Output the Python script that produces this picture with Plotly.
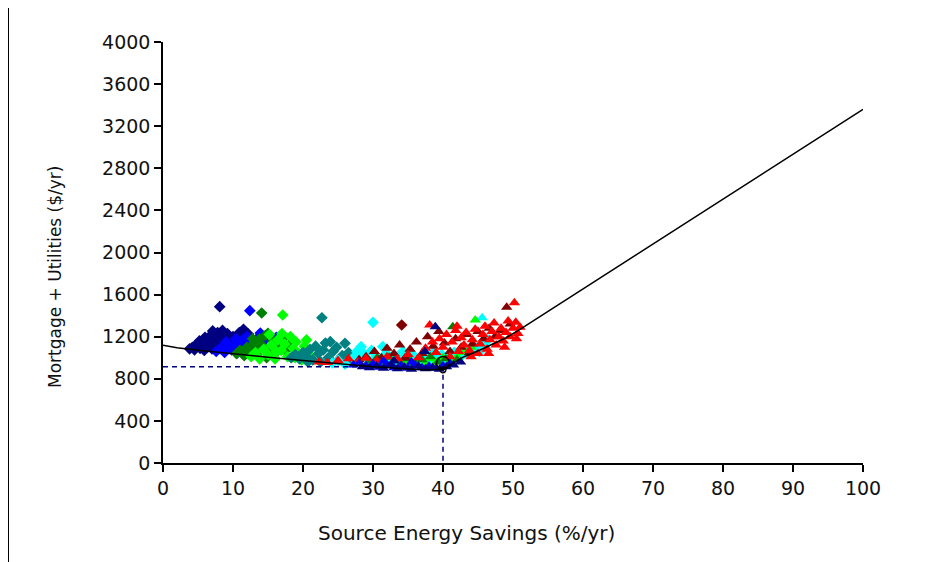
import plotly.graph_objects as go

# ---------------- data ----------------
navy_dia_x = [3.8,4.2,4.5,5.0,5.3,5.6,5.9,6.2,6.4,6.7,6.9,7.1,7.3,7.5,7.8,8.0,8.1,8.3,8.5,8.7,8.9,9.2,9.5,9.7,10.0,10.3,10.6,10.9,11.2,11.5,11.8,12.2,12.5,12.8,5.2,6.0,7.0,9.0,4.8,7.7]
navy_dia_y = [1085,1100,1075,1110,1090,1130,1070,1150,1105,1180,1220,1255,1130,1200,1240,1165,1485,1210,1260,1120,1180,1230,1095,1150,1200,1080,1170,1240,1130,1270,1190,1225,1110,1150,1160,1195,1085,1070,1130,1100]

blue_dia_x = [7.6,8.2,8.8,9.3,9.8,10.2,10.6,11.0,11.4,11.8,12.0,12.4,12.6,13.0,13.4,13.9,14.2,14.6,15.0,15.4,15.8,16.2,10.4,9.0,12.9]
blue_dia_y = [1060,1090,1050,1110,1075,1140,1045,1100,1170,1065,1200,1447,1130,1090,1180,1235,1150,1100,1200,1060,1130,1195,1180,1150,1040]

green_dia_x = [10.5,11.0,11.6,12.0,12.5,13.0,13.4,13.8,14.1,14.3,14.6,15.0,15.3,15.7,16.0,16.4,16.8,17.2,17.5,18.0,18.5,19.0,19.6,12.8,14.8,13.6]
green_dia_y = [1040,1070,1020,1100,1060,1140,1030,1180,1425,1110,1210,1232,1080,1160,1040,1130,1200,1185,1070,1120,1010,1060,1000,1180,1000,1090]

lime_dia_x = [12.6,13.2,13.8,14.4,15.0,15.5,16.0,16.4,16.9,17.1,17.4,17.8,18.2,18.6,19.0,19.4,19.8,20.2,20.5,21.0,15.2,17.0,18.9,16.2]
lime_dia_y = [1010,1050,990,1080,1030,1120,990,1170,1070,1406,1130,1010,1200,1090,1150,1040,980,1110,1169,1020,1220,1230,1000,1060]

teal_dia_x = [18.3,18.9,19.5,20.0,20.5,21.0,21.4,21.8,22.2,22.7,22.9,23.2,23.6,23.9,24.3,24.8,25.2,25.6,26.0,26.5,27.0,27.5,20.7,22.5,24.0]
teal_dia_y = [1000,1030,990,1050,1010,1080,980,1110,1040,1380,1074,1140,1000,1153,1060,1100,990,1020,1137,1050,980,1010,960,960,970]

cyan_dia_x = [24.2,25.0,26.0,27.2,27.7,28.3,28.8,29.3,29.8,30.0,30.5,31.0,31.4,31.9,32.5,33.1,33.7,34.3,34.9,35.5,36.1,36.7,37.3,38.0,38.6,39.2,39.8,40.4,41.0,41.6,42.2,42.8,43.4,44.0,44.6,45.2,45.8,46.4]
cyan_dia_y = [950,975,940,1000,1060,1105,1030,980,1070,1337,1010,950,1105,1040,990,950,1020,1060,980,1040,1000,960,1020,980,1050,990,1030,960,1000,1050,990,1030,1080,1040,1100,1060,1130,1170]

maroon_dia_x = [34.1]
maroon_dia_y = [1311]

navy_tri_x = [28.5,29.5,30.5,31.5,32.5,33.5,34.5,35.5,36.5,37.5,38.5,39.5,40.5,41.5,38.9,37.4,33.0,42.5]
navy_tri_y = [915,905,920,900,930,895,910,890,920,895,905,890,915,930,1295,1060,970,960]

blue_tri_x = [27.2,28.0,29.0,30.0,31.0,32.0,33.0,34.0,35.0,36.0,37.0,38.0,39.0,40.0,41.0,35.5,31.5]
blue_tri_y = [930,945,925,940,910,935,905,925,900,930,905,920,900,925,945,960,970]

green_tri_x = [29.5,30.6,31.5,32.3,33.2,34.0,35.0,36.0,37.0,38.2,39.3,40.4,41.4,42.0]
green_tri_y = [970,1000,960,1005,975,940,990,955,980,1010,960,990,1295,980]

lime_tri_x = [34.5,35.6,36.7,37.5,38.4,39.0,40.0,41.0,42.0,43.0,44.6,44.0]
lime_tri_y = [960,945,980,950,990,960,1000,970,1010,1050,1359,1100]

cyan_tri_x = [45.6,42.5,43.5,44.5,40.8,39.5,46.0,41.8]
cyan_tri_y = [1381,1060,1020,1060,1040,1010,1120,990]

maroon_tri_x = [28.0,29.0,30.2,31.2,32.0,33.0,33.8,34.6,35.3,36.2,37.0,37.8,38.6,39.4,40.2,41.0,41.8,42.6,43.4,44.2,45.0,45.8,46.6,47.4,48.2,49.1,49.6,43.8]
maroon_tri_y = [980,1010,1060,1000,1090,1040,1120,1000,1080,1150,1040,1200,1110,1250,1140,1060,1180,1100,1220,1130,1250,1180,1280,1200,1260,1479,1320,1050]

red_tri_x = [22.3,23.5,25.0,26.5,27.8,29.0,30.5,32.0,33.5,35.0,36.5,37.5,38.1,38.5,39.0,39.5,40.0,40.5,41.0,41.3,41.8,42.2,42.6,43.0,43.3,43.8,44.2,44.6,45.0,45.3,45.7,46.0,46.3,46.7,47.0,47.3,47.6,48.0,48.3,48.6,49.0,49.3,49.6,50.0,50.2,50.4,50.7,51.0,44.0,46.5,48.8,50.5,42.0]
red_tri_y = [960,955,975,990,960,995,975,1010,990,1030,1000,1090,1311,1150,1050,1180,1100,1220,1010,1150,1260,1060,1190,1120,1240,1070,1170,1270,1040,1130,1220,1300,1080,1170,1250,1330,1120,1200,1280,1160,1240,1350,1200,1280,1523,1337,1230,1290,1010,1040,1100,1180,1300]

curve_x = [0,2,5,10,15,20,25,30,35,38,40,41.4,43,45.3,49,51,100]
curve_y = [1118,1095,1072,1037,1005,975,945,915,893,884,892,950,1010,1074,1190,1270,3360]

opt_x = 40
opt_y = 915
opt_curve_y = 885

x_ticks = [0,10,20,30,40,50,60,70,80,90,100]
y_ticks = [0,400,800,1200,1600,2000,2400,2800,3200,3600,4000]

# ---------------- figure ----------------
fig = go.Figure()

def add(xs, ys, color, symbol, size):
    fig.add_trace(go.Scatter(x=xs, y=ys, mode="markers",
                             marker=dict(color=color, symbol=symbol, size=size, line=dict(width=0)),
                             showlegend=False, hoverinfo="skip"))

add(navy_dia_x, navy_dia_y, "#000080", "diamond", 9)
add(blue_dia_x, blue_dia_y, "#0000FF", "diamond", 9)
add(green_dia_x, green_dia_y, "#008000", "diamond", 9)
add(lime_dia_x, lime_dia_y, "#00FF00", "diamond", 9)
add(teal_dia_x, teal_dia_y, "#008080", "diamond", 9)
add(cyan_dia_x, cyan_dia_y, "#00FFFF", "diamond", 9)
add(maroon_dia_x, maroon_dia_y, "#800000", "diamond", 9)
add(cyan_tri_x, cyan_tri_y, "#00FFFF", "triangle-up", 10)
add(lime_tri_x, lime_tri_y, "#00FF00", "triangle-up", 10)
add(green_tri_x, green_tri_y, "#008000", "triangle-up", 10)
add(maroon_tri_x, maroon_tri_y, "#800000", "triangle-up", 10)
add(red_tri_x, red_tri_y, "#FF0000", "triangle-up", 10)
add(blue_tri_x, blue_tri_y, "#0000FF", "triangle-up", 10)
add(navy_tri_x, navy_tri_y, "#000080", "triangle-up", 10)

# dashed optimum guides
fig.add_trace(go.Scatter(x=[0, opt_x, opt_x], y=[opt_y, opt_y, 0], mode="lines",
                         line=dict(color="#000080", width=1.5, dash="5px,4px"),
                         showlegend=False, hoverinfo="skip"))
# fitted curve
fig.add_trace(go.Scatter(x=curve_x, y=curve_y, mode="lines",
                         line=dict(color="black", width=1.5),
                         showlegend=False, hoverinfo="skip"))
# optimum markers
fig.add_trace(go.Scatter(x=[opt_x], y=[opt_y + 35], mode="markers",
                         marker=dict(symbol="circle-open", size=13, color="black", line=dict(width=1.5)),
                         showlegend=False, hoverinfo="skip"))
fig.add_trace(go.Scatter(x=[opt_x], y=[opt_curve_y], mode="markers",
                         marker=dict(symbol="circle-open", size=6, color="black", line=dict(width=1.2)),
                         showlegend=False, hoverinfo="skip"))

font_family = "DejaVu Sans"
axis_common = dict(showgrid=False, zeroline=False, showline=True, linecolor="black", linewidth=1.5,
                   ticks="outside", ticklen=7, tickwidth=1.5, tickcolor="black",
                   tickfont=dict(family=font_family, size=19, color="#111111"))

# page has an 8px body margin, so margins are reduced by that offset
fig.update_layout(
    width=940, height=562,
    margin=dict(l=155, r=85, t=34, b=107),
    paper_bgcolor="white", plot_bgcolor="white",
    xaxis=dict(range=[0, 100], tickmode="array", tickvals=x_ticks, **axis_common),
    yaxis=dict(range=[0, 4000], tickmode="array", tickvals=y_ticks, **axis_common),
    annotations=[
        dict(text="Source Energy Savings (%/yr)", xref="paper", yref="paper",
             x=(466 - 163) / 700, y=0, yshift=-70, xanchor="center", yanchor="middle",
             showarrow=False, font=dict(family=font_family, size=20, color="#111111")),
        dict(text="Mortgage + Utilities ($/yr)", xref="paper", yref="paper",
             x=0, xshift=-108, y=(463 - 277) / 421, xanchor="center", yanchor="middle",
             textangle=-90, showarrow=False, font=dict(family=font_family, size=17, color="#111111")),
    ],
    shapes=[dict(type="line", xref="paper", yref="paper",
                 x0=(8 - 163) / 700, x1=(8 - 163) / 700, y0=-99 / 421, y1=1 + 50 / 421,
                 line=dict(color="black", width=2))],
)

fig.write_html("out.html")
